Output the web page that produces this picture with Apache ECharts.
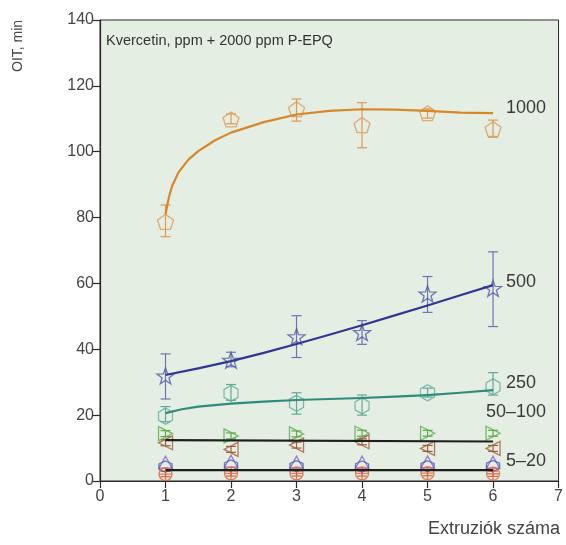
<!DOCTYPE html>
<html>
<head>
<meta charset="utf-8">
<script src="https://cdn.jsdelivr.net/npm/echarts@6/dist/echarts.min.js"></script>
<style>html,body{margin:0;padding:0;background:#fff}#c{width:566px;height:545px}</style>
</head>
<body>
<div id="c"></div>
<script>
// ---- data ----
var xTicks = [0, 1, 2, 3, 4, 5, 6, 7];
var yTicks = [0, 20, 40, 60, 80, 100, 120, 140];
var extrusions = [1, 2, 3, 4, 5, 6];

var oit1000 = [78.7, 109.8, 112.9, 108.1, 111.7, 106.9];
var lo1000 = [74.2, 108.5, 109.3, 101.2, 110.2, 104.4];
var hi1000 = [83.8, 111.5, 116.0, 114.9, 113.0, 109.6];
var fit1000x = [1, 1.05, 1.1, 1.2, 1.35, 1.5, 1.75, 2, 2.5, 3, 3.5, 4, 4.5, 5, 5.5, 6];
var fit1000y = [81, 86, 89.5, 93.8, 97.6, 100.2, 103.4, 105.8, 109, 111.3, 112.4, 112.9, 112.8, 112.4, 111.9, 111.7];

var oit500 = [31.9, 36.7, 43.8, 45.1, 56.8, 58.5];
var lo500 = [24.9, 34.7, 37.5, 41.5, 51.2, 46.9];
var hi500 = [38.6, 39.1, 50.2, 48.7, 62.1, 69.6];
var fit500x = [1, 1.5, 2, 2.5, 3, 3.5, 4, 4.5, 5, 5.5, 6];
var fit500y = [32.2, 34.2, 36.4, 38.9, 41.6, 44.4, 47.3, 50.3, 53.3, 56.4, 59.5];

var oit250 = [19.7, 26.6, 23.6, 22.8, 26.8, 28.6];
var lo250 = [18.0, 24.5, 20.3, 20.0, 25.5, 26.1];
var hi250 = [22.6, 29.3, 26.8, 26.1, 28.2, 32.9];
var fit250x = [1, 1.25, 1.5, 2, 2.5, 3, 3.5, 4, 4.5, 5, 5.5, 6];
var fit250y = [20.6, 21.8, 22.6, 23.5, 24.1, 24.6, 24.9, 25.2, 25.6, 26.1, 26.8, 27.6];

var oit100 = [14.4, 13.7, 14.3, 14.5, 14.5, 14.5];
var oit50 = [11.6, 9.6, 10.9, 11.9, 9.9, 9.9];
var err50100 = [0.9, 0.9, 0.9, 0.9, 0.9, 0.9];
var fit50100x = [1, 6];
var fit50100y = [12.4, 12.0];

var oit20 = [5.7, 6.0, 5.7, 5.7, 5.8, 5.7];
var oit10 = [4.4, 4.7, 4.5, 4.4, 4.5, 4.6];
var oit5 = [2.1, 2.3, 2.3, 2.3, 2.4, 2.2];
var err520 = [0.8, 0.8, 0.8, 0.8, 0.8, 0.8];
var fit520x = [1, 6];
var fit520y = [3.3, 3.3];

var titleText = 'Kvercetin, ppm + 2000 ppm P-EPQ';
var yName = 'OIT, min';
var xName = 'Extruziók száma';
var labels = ['1000', '500', '250', '50–100', '5–20'];

// ---- helpers ----
function zip(xs, ys) { return xs.map(function (x, i) { return [x, ys[i]]; }); }
function errData(xs, lo, hi) { return xs.map(function (x, i) { return [x, lo[i], hi[i]]; }); }
function errSym(xs, ys, e) { return xs.map(function (x, i) { return [x, ys[i] - e[i], ys[i] + e[i]]; }); }

var SYM = {
  pentagon: 'path://M0,-10 L9.51,-3.09 L5.88,8.09 L-5.88,8.09 L-9.51,-3.09 Z',
  star: 'path://M0,-10 L2.35,-3.24 L9.51,-3.09 L3.8,1.24 L5.88,8.09 L0,4 L-5.88,8.09 L-3.8,1.24 L-9.51,-3.09 L-2.35,-3.24 Z',
  hexagon: 'path://M0,-10 L8.66,-5 L8.66,5 L0,10 L-8.66,5 L-8.66,-5 Z',
  triRight: 'path://M-7,-8 L9,0 L-7,8 Z',
  triLeft: 'path://M7,-8 L-9,0 L7,8 Z',
  triUp: 'path://M0,-9 L9,7 L-9,7 Z',
  circlePlus: 'path://M-10,0 A10,10 0 1,0 10,0 A10,10 0 1,0 -10,0 Z M-10,0 L10,0 M0,-10 L0,10'
};

function errSeries(data, color) {
  return {
    type: 'custom',
    data: data,
    z: 2,
    silent: true,
    renderItem: function (params, api) {
      var x = api.value(0);
      var a = api.coord([x, api.value(1)]);
      var b = api.coord([x, api.value(2)]);
      var w = 5;
      var st = { stroke: color, lineWidth: 1.2 };
      return {
        type: 'group',
        children: [
          { type: 'line', shape: { x1: a[0], y1: a[1], x2: b[0], y2: b[1] }, style: st },
          { type: 'line', shape: { x1: a[0] - w, y1: a[1], x2: a[0] + w, y2: a[1] }, style: st },
          { type: 'line', shape: { x1: b[0] - w, y1: b[1], x2: b[0] + w, y2: b[1] }, style: st }
        ]
      };
    }
  };
}
function markSeries(xs, ys, sym, size, color) {
  return {
    type: 'scatter', data: zip(xs, ys), symbol: sym, symbolSize: size, z: 3, silent: true,
    itemStyle: { color: 'rgba(0,0,0,0)', borderColor: color, borderWidth: 1.3 }
  };
}
function fitSeries(xs, ys, color, width, label, offset) {
  return {
    type: 'line', data: zip(xs, ys), symbol: 'none', smooth: false, z: 4, silent: true,
    lineStyle: { color: color, width: width, join: 'round' },
    endLabel: {
      show: true, formatter: label, distance: 13, offset: offset,
      color: '#3a3a3a', fontSize: 18, fontFamily: 'Liberation Sans, Arial, sans-serif'
    }
  };
}

var cOrange = '#dc9a55', cOrangeLine = '#d7862a';
var cNavy = '#5357a8', cNavyLine = '#30378f';
var cTeal = '#62a99a', cTealLine = '#2f8b7c';
var cGreen = '#5ea94d', cBrown = '#a35b3c', cPurple = '#8b60c8', cBlue = '#4b58ae', cRed = '#e0603a';

var series = [
  errSeries(errData(extrusions, lo1000, hi1000), cOrange),
  markSeries(extrusions, oit1000, SYM.pentagon, [16, 15], cOrange),
  fitSeries(fit1000x, fit1000y, cOrangeLine, 2.2, labels[0], [0, -5]),

  errSeries(errData(extrusions, lo500, hi500), '#6f74b4'),
  markSeries(extrusions, oit500, SYM.star, [17, 16], cNavy),
  fitSeries(fit500x, fit500y, cNavyLine, 2.2, labels[1], [0, -3]),

  errSeries(errData(extrusions, lo250, hi250), cTeal),
  markSeries(extrusions, oit250, SYM.hexagon, [14, 16], cTeal),
  fitSeries(fit250x, fit250y, cTealLine, 2.2, labels[2], [0, -7]),

  errSeries(errSym(extrusions, oit100, err50100), cGreen),
  errSeries(errSym(extrusions, oit50, err50100), cBrown),
  markSeries(extrusions, oit100, SYM.triRight, [14, 14], cGreen),
  markSeries(extrusions, oit50, SYM.triLeft, [14, 14], cBrown),
  fitSeries(fit50100x, fit50100y, '#1e1e1e', 2.2, labels[3], [-20, -29]),

  errSeries(errSym(extrusions, oit5, err520), cRed),
  markSeries(extrusions, oit20, SYM.triUp, [13, 12], cPurple),
  markSeries(extrusions, oit10, SYM.hexagon, [13, 11], cBlue),
  markSeries(extrusions, oit5, SYM.circlePlus, [13, 13], cRed),
  fitSeries(fit520x, fit520y, '#1e1e1e', 2.2, labels[4], [0, -9])
];

var chart = echarts.init(document.getElementById('c'), null, { renderer: 'canvas' });
var font = 'Liberation Sans, Arial, sans-serif';
chart.setOption({
  animation: false,
  backgroundColor: '#ffffff',
  grid: {
    left: 100, right: 4, top: 20, bottom: 64,
    show: true, backgroundColor: '#e4eee3', borderColor: '#2a2a2a', borderWidth: 1
  },
  xAxis: {
    type: 'value', min: xTicks[0], max: xTicks[xTicks.length - 1], interval: 1,
    axisLine: { show: true, lineStyle: { color: '#2a2a2a', width: 1.2 } },
    axisTick: { show: true, length: 7, lineStyle: { color: '#2a2a2a', width: 1.2 } },
    axisLabel: { color: '#444', fontSize: 16, fontFamily: font, margin: 8 },
    splitLine: { show: false }
  },
  yAxis: {
    type: 'value', min: yTicks[0], max: yTicks[yTicks.length - 1], interval: 20,
    axisLine: { show: true, lineStyle: { color: '#2a2a2a', width: 1.2 } },
    axisTick: { show: true, length: 7, lineStyle: { color: '#2a2a2a', width: 1.2 } },
    axisLabel: { color: '#444', fontSize: 16, fontFamily: font, margin: 6 },
    splitLine: { show: false }
  },
  graphic: [
    { type: 'text', left: 106, top: 33, style: { text: titleText, fill: '#333', font: '14.5px ' + font } },
    { type: 'text', x: 11, y: 72, rotation: Math.PI / 2, style: { text: yName, fill: '#444', font: '14px ' + font } },
    { type: 'text', right: 6, top: 520, style: { text: xName, fill: '#444', font: '18px ' + font } }
  ],
  series: series
});
</script>
</body>
</html>
